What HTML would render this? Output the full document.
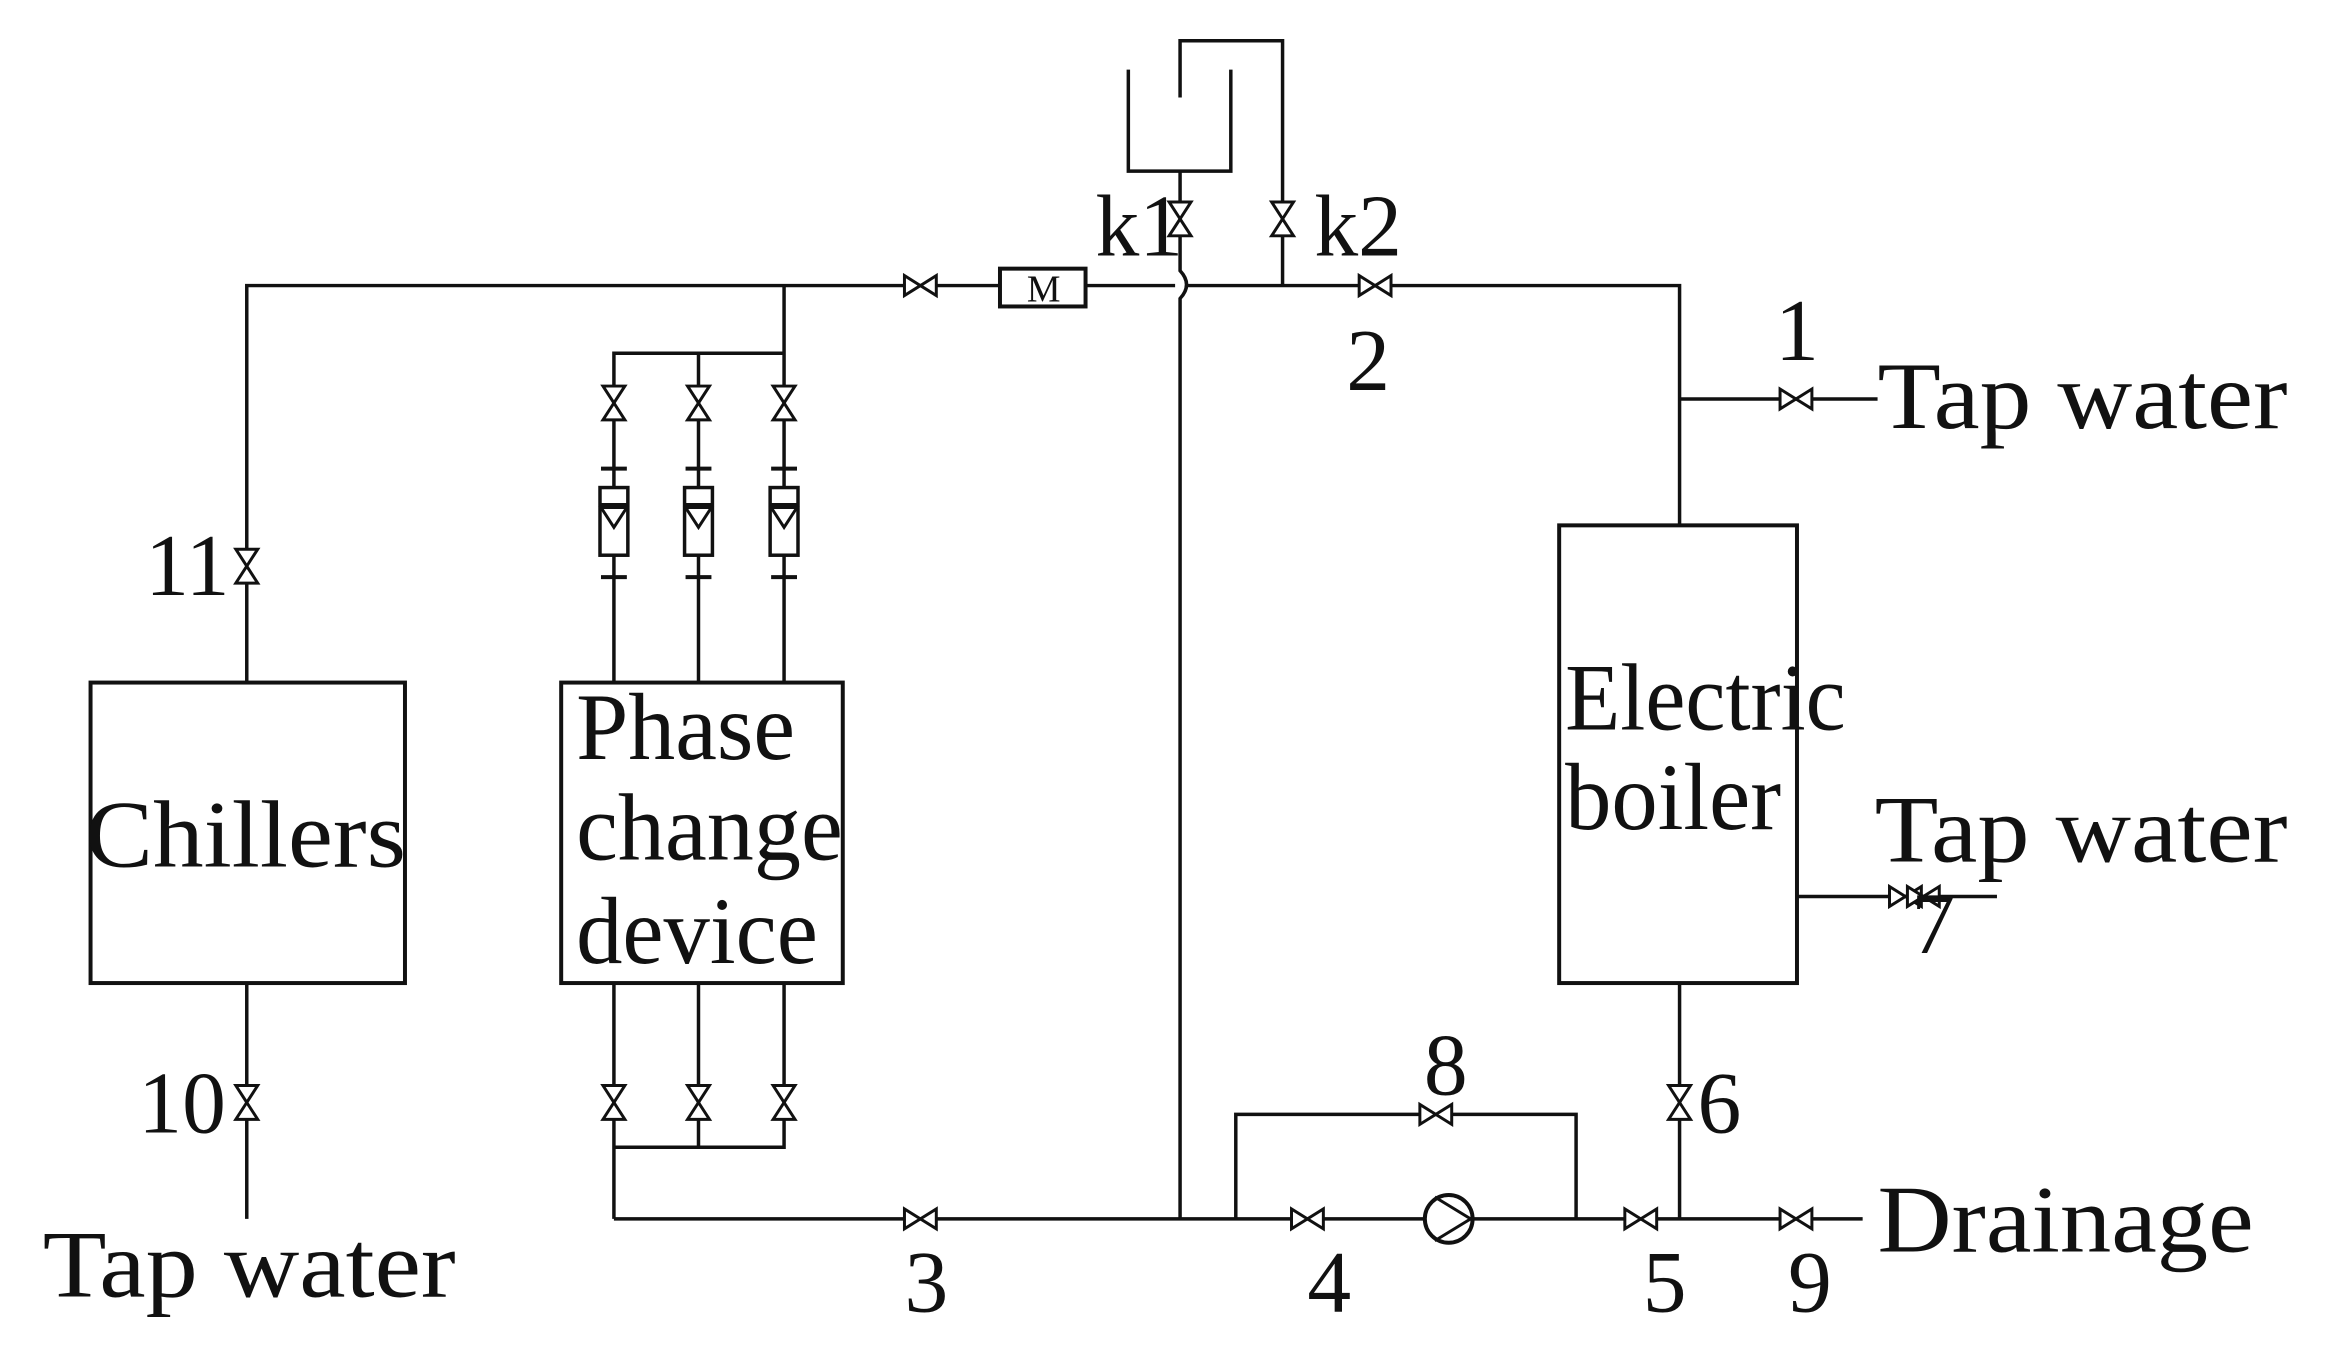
<!DOCTYPE html>
<html><head><meta charset="utf-8"><style>
html,body{margin:0;padding:0;background:#fff}
svg{display:block}
text{font-family:"Liberation Serif",serif;fill:#111}
</style></head><body>
<svg width="2335" height="1371" viewBox="0 0 2335 1371" xmlns="http://www.w3.org/2000/svg">
<defs>
<g id="vh"><path d="M-16,-10 L-16,10 L0,0 Z M16,-10 L16,10 L0,0 Z" fill="#fff" stroke="#111" stroke-width="3"/></g>
<g id="vv"><path d="M-11,-17 L11,-17 L0,0 Z M-11,17 L11,17 L0,0 Z" fill="#fff" stroke="#111" stroke-width="3"/></g>
<g id="fm"><line x1="-13" y1="-79" x2="13" y2="-79" stroke="#111" stroke-width="4"/><rect x="-14" y="-60" width="28" height="68" fill="#fff" stroke="#111" stroke-width="3.5"/><line x1="-14" y1="-43" x2="14" y2="-43" stroke="#111" stroke-width="3"/><path d="M-13,-40 L13,-40 L0,-20 Z" fill="none" stroke="#111" stroke-width="3"/><line x1="-13" y1="30" x2="13" y2="30" stroke="#111" stroke-width="4"/></g>
</defs>
<g transform="translate(1,0) scale(0.995)">
<g stroke="#111" stroke-width="3.5" fill="none">
<path d="M247,686 L247,287 L1180,287"/>
<path d="M1191,287 L1687,287 L1687,528"/>
<path d="M1185,172 L1185,272 Q1198,286 1185,300 L1185,1225"/>
<path d="M1133,70 L1133,172 L1236,172 L1236,70"/>
<path d="M1185,98 L1185,41 L1288,41 L1288,287"/>
<rect x="1004" y="270" width="86" height="38" fill="#fff" stroke-width="4"/>
<path d="M787,287 L787,355 L616,355 L616,686 M701,355 L701,686 M787,355 L787,686"/>
<path d="M616,988 L616,1225 M701,988 L701,1153 M787,988 L787,1153 L616,1153"/>
<path d="M616,1225 L1871,1225"/>
<path d="M247,988 L247,1225"/>
<path d="M1241,1225 L1241,1120 L1583,1120 L1583,1225"/>
<path d="M1687,988 L1687,1225"/>
<path d="M1687,401 L1886,401"/>
<path d="M1805,901 L2006,901"/>
<rect x="90" y="686" width="316" height="302" stroke-width="4"/>
<rect x="563" y="686" width="283" height="302" stroke-width="4"/>
<rect x="1566" y="528" width="239" height="460" stroke-width="4"/>
<circle cx="1455" cy="1225" r="24" fill="#fff" stroke-width="4"/>
<path d="M1441,1203 L1477,1225 L1441,1247" stroke-width="3"/>
</g>
<text x="1031" y="303" font-size="38" font-family="Liberation Sans Narrow, Liberation Sans, sans-serif">M</text>
<use href="#vh" x="924" y="287"/>
<use href="#vh" x="1381" y="287"/>
<use href="#vh" x="1804" y="401"/>
<use href="#vh" x="1914" y="901"/>
<use href="#vh" x="1932" y="901"/>
<use href="#vh" x="924" y="1225"/>
<use href="#vh" x="1313" y="1225"/>
<use href="#vh" x="1442" y="1120"/>
<use href="#vh" x="1648" y="1225"/>
<use href="#vh" x="1804" y="1225"/>
<use href="#vv" x="1185" y="220"/>
<use href="#vv" x="1288" y="220"/>
<use href="#vv" x="616" y="405"/>
<use href="#vv" x="701" y="405"/>
<use href="#vv" x="787" y="405"/>
<use href="#vv" x="616" y="1108"/>
<use href="#vv" x="701" y="1108"/>
<use href="#vv" x="787" y="1108"/>
<use href="#vv" x="247" y="569"/>
<use href="#vv" x="247" y="1108"/>
<use href="#vv" x="1687" y="1108"/>
<use href="#fm" x="616" y="550"/>
<use href="#fm" x="701" y="550"/>
<use href="#fm" x="787" y="550"/>
<g font-size="96">
<text x="1886" y="430" textLength="412" lengthAdjust="spacingAndGlyphs">Tap water</text>
<text x="1883" y="866" textLength="415" lengthAdjust="spacingAndGlyphs">Tap water</text>
<text x="42" y="1303" textLength="415" lengthAdjust="spacingAndGlyphs">Tap water</text>
<text x="1886" y="1258" textLength="378" lengthAdjust="spacingAndGlyphs">Drainage</text>
<text x="85" y="871" textLength="322" lengthAdjust="spacingAndGlyphs">Chillers</text>
<text x="578" y="763" textLength="220" lengthAdjust="spacingAndGlyphs">Phase</text>
<text x="578" y="864" textLength="268" lengthAdjust="spacingAndGlyphs">change</text>
<text x="578" y="968" textLength="243" lengthAdjust="spacingAndGlyphs">device</text>
<text x="1572" y="733" textLength="282" lengthAdjust="spacingAndGlyphs">Electric</text>
<text x="1572" y="833" textLength="217" lengthAdjust="spacingAndGlyphs">boiler</text>
</g>
<g font-size="88">
<text x="1100" y="257">k1</text>
<text x="1320" y="257">k2</text>
<text x="1783" y="362">1</text>
<text x="1352" y="392">2</text>
<text x="145" y="598">11</text>
<text x="138" y="1138">10</text>
<text x="1920" y="958">7</text>
<text x="1430" y="1100">8</text>
<text x="1705" y="1138">6</text>
<text x="908" y="1318">3</text>
<text x="1313" y="1318">4</text>
<text x="1650" y="1318">5</text>
<text x="1796" y="1318">9</text>
</g>
</g>
</svg>
</body></html>
